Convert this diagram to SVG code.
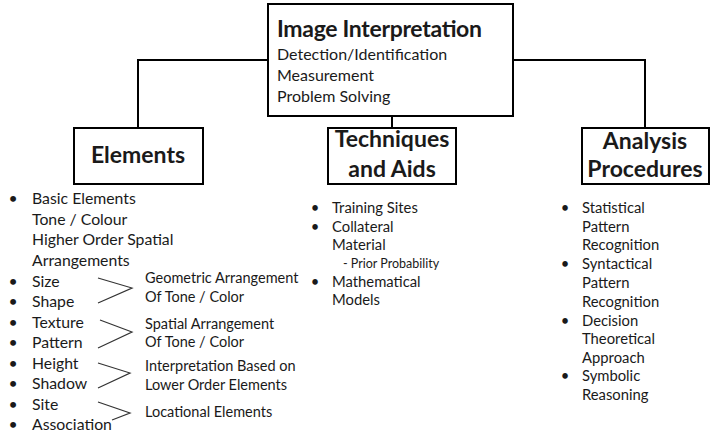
<svg xmlns="http://www.w3.org/2000/svg" width="715" height="442" viewBox="0 0 715 442">
<style>
text{font-family:Lato,"Open Sans","Liberation Sans",sans-serif;fill:#1a1a1a}
.t{font-weight:bold;font-size:23px}
.h{font-weight:bold;font-size:23px;text-anchor:middle}
.s{font-size:16px}
.e{font-size:15.8px}
.l{font-size:14.8px}
.m{font-size:14.5px}
.p{font-size:12.5px}
.b{text-anchor:middle}
.box{fill:#fff;stroke:#000;stroke-width:2}
.con{fill:none;stroke:#000;stroke-width:2}
.chev{fill:none;stroke:#333;stroke-width:1.2}
</style>
<rect width="715" height="442" fill="#fff"/>
<g id="connectors">
<polyline class="con" points="269,60 138,60 138,128"/>
<polyline class="con" points="513,60 645,60 645,128"/>
<line class="con" x1="392" y1="116" x2="392" y2="128"/>
</g>
<g id="image-interpretation">
<rect class="box" x="268" y="4" width="245" height="112"/>
<text class="t" x="277" y="37" textLength="205">Image Interpretation</text>
<text class="s" x="277" y="60">Detection/Identification</text>
<text class="s" x="277" y="81">Measurement</text>
<text class="s" x="277" y="102">Problem Solving</text>
</g>
<g id="elements">
<rect class="box" x="74" y="128" width="129" height="56"/>
<text class="h" x="138" y="163">Elements</text>
</g>
<g id="techniques">
<rect class="box" x="328" y="128" width="128" height="56"/>
<text class="h" x="392" y="147">Techniques</text>
<text class="h" x="392" y="177">and Aids</text>
</g>
<g id="analysis">
<rect class="box" x="582" y="128" width="127" height="56"/>
<text class="h" x="645" y="149">Analysis</text>
<text class="h" x="645" y="177">Procedures</text>
</g>
<g id="elements-list">
<g class="e">
<text class="b" x="13" y="204">•</text><text x="32" y="204">Basic Elements</text>
<text x="32" y="225">Tone / Colour</text>
<text x="32" y="245">Higher Order Spatial</text>
<text x="32" y="266">Arrangements</text>
<text class="b" x="13" y="287">•</text><text x="32" y="287">Size</text>
<text class="b" x="13" y="307">•</text><text x="32" y="307">Shape</text>
<text class="b" x="13" y="328">•</text><text x="32" y="328">Texture</text>
<text class="b" x="13" y="348">•</text><text x="32" y="348">Pattern</text>
<text class="b" x="13" y="369">•</text><text x="32" y="369">Height</text>
<text class="b" x="13" y="389">•</text><text x="32" y="389">Shadow</text>
<text class="b" x="13" y="410">•</text><text x="32" y="410">Site</text>
<text class="b" x="13" y="430">•</text><text x="32" y="430">Association</text>
</g>
<polyline class="chev" points="98,278 132,288 98,303"/>
<polyline class="chev" points="100,320 132,332 98,348"/>
<polyline class="chev" points="98,363 130,373 98,388"/>
<polyline class="chev" points="98,402 130,413 112,420"/>
<g class="m">
<text x="145" y="283">Geometric Arrangement</text>
<text x="145" y="302">Of Tone / Color</text>
<text x="145" y="329">Spatial Arrangement</text>
<text x="145" y="347">Of Tone / Color</text>
<text x="145" y="371">Interpretation Based on</text>
<text x="145" y="390">Lower Order Elements</text>
<text x="145" y="417">Locational Elements</text>
</g>
</g>
<g id="techniques-list" class="l">
<text class="b" x="315" y="213">•</text><text x="332" y="213">Training Sites</text>
<text class="b" x="315" y="232">•</text><text x="332" y="232">Collateral</text>
<text x="332" y="250">Material</text>
<text class="p" x="343" y="268">- Prior Probability</text>
<text class="b" x="315" y="287">•</text><text x="332" y="287">Mathematical</text>
<text x="332" y="305">Models</text>
</g>
<g id="analysis-list" class="l">
<text class="b" x="565" y="213">•</text><text x="582" y="213">Statistical</text>
<text x="582" y="232">Pattern</text>
<text x="582" y="250">Recognition</text>
<text class="b" x="565" y="269">•</text><text x="582" y="269">Syntactical</text>
<text x="582" y="288">Pattern</text>
<text x="582" y="307">Recognition</text>
<text class="b" x="565" y="326">•</text><text x="582" y="326">Decision</text>
<text x="582" y="344">Theoretical</text>
<text x="582" y="363">Approach</text>
<text class="b" x="565" y="381">•</text><text x="582" y="381">Symbolic</text>
<text x="582" y="400">Reasoning</text>
</g>
</svg>
